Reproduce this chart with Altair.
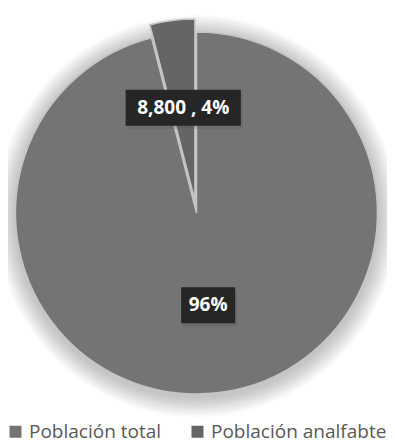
import altair as alt
import pandas as pd

categories = ["Población total", "Población analfabte"]
values = [211200, 8800]
labels = ["96%", "8,800 , 4%"]
order = [0, 1]

df = pd.DataFrame({"cat": categories, "value": values, "label": labels, "ord": order})

W, H = 379, 439
CX, CY, R = 188.5, 205, 181
EX = 13       # explode offset of the small slice
LR = 93       # label radius
colors = ["#747474", "#656565"]

box_paths = [
    "M-1.5,-1H1.5V1H-1.5Z",
    "M-3.2,-1H3.2V1H-3.2Z",
]

base = alt.Chart(df).transform_joinaggregate(
    total="sum(value)"
).transform_stack(
    stack="value", groupby=[], as_=["v0", "v1"], sort=[alt.SortField("ord")]
).transform_calculate(
    t0="datum.v0/datum.total*2*PI",
    t1="datum.v1/datum.total*2*PI",
    mid="(datum.v0+datum.v1)/datum.total*PI",
    ex=f"datum.ord == 1 ? {EX} : 0",
    cx=f"{CX} + datum.ex*sin(datum.mid)",
    cy=f"{CY} - datum.ex*cos(datum.mid)",
    lx=f"datum.cx + {LR}*sin(datum.mid)",
    ly=f"datum.cy - {LR}*cos(datum.mid)",
    boxkey="'k' + datum.ord",
)

# soft shadow around the pie
shadow_layers = []
for k in range(1, 11):
    shadow_layers.append(
        alt.Chart(df).transform_filter("datum.ord == 0").mark_arc(
            theta=0, theta2=6.2832, radius=R + 2 * k, fill="#000000",
            opacity=0.025, stroke=None
        ).encode(x=alt.value(CX), y=alt.value(CY + 3))
    )

arcs = base.mark_arc(radius=R, stroke="#c4c4c4", strokeWidth=1.5).encode(
    x=alt.X("cx:Q", scale=None),
    y=alt.Y("cy:Q", scale=None),
    theta=alt.Theta("t0:Q", scale=None),
    theta2="t1:Q",
    color=alt.Color(
        "cat:N",
        scale=alt.Scale(domain=categories, range=colors),
        legend=alt.Legend(
            title=None, orient="none", legendX=-2, legendY=414,
            direction="horizontal", symbolType="square", symbolSize=144,
            symbolStrokeWidth=0, labelFontSize=19, labelFont="Open Sans",
            labelColor="#595959", columnPadding=26, padding=0,
            labelOffset=4, symbolOpacity=1, labelLimit=300,
        ),
    ),
    order=alt.Order("ord:Q"),
)

shape_enc = alt.Shape(
    "boxkey:N", scale=alt.Scale(domain=["k0", "k1"], range=box_paths), legend=None
)

box_shadow = base.mark_point(filled=True, opacity=0.25, size=1296, color="#555555").encode(
    x=alt.X("sx:Q", scale=None),
    y=alt.Y("sy:Q", scale=None),
    shape=shape_enc,
).transform_calculate(sx="datum.lx + 2", sy="datum.ly + 3")

boxes = base.mark_point(filled=True, opacity=1, size=1296, color="#262626").encode(
    x=alt.X("lx:Q", scale=None),
    y=alt.Y("ly:Q", scale=None),
    shape=shape_enc,
)

texts = base.mark_text(
    font="Open Sans", fontWeight="bold", fontSize=19, color="white",
    baseline="middle", align="center"
).encode(
    x=alt.X("lx:Q", scale=None),
    y=alt.Y("ly:Q", scale=None),
    text="label:N",
)

chart = alt.layer(*shadow_layers, arcs, box_shadow, boxes, texts).properties(
    width=W, height=H, autosize=alt.AutoSizeParams(type="none"), padding=0,
    background="white",
).configure_view(stroke=None)

chart.save("out.html", embed_options={"renderer": "svg", "actions": False})
